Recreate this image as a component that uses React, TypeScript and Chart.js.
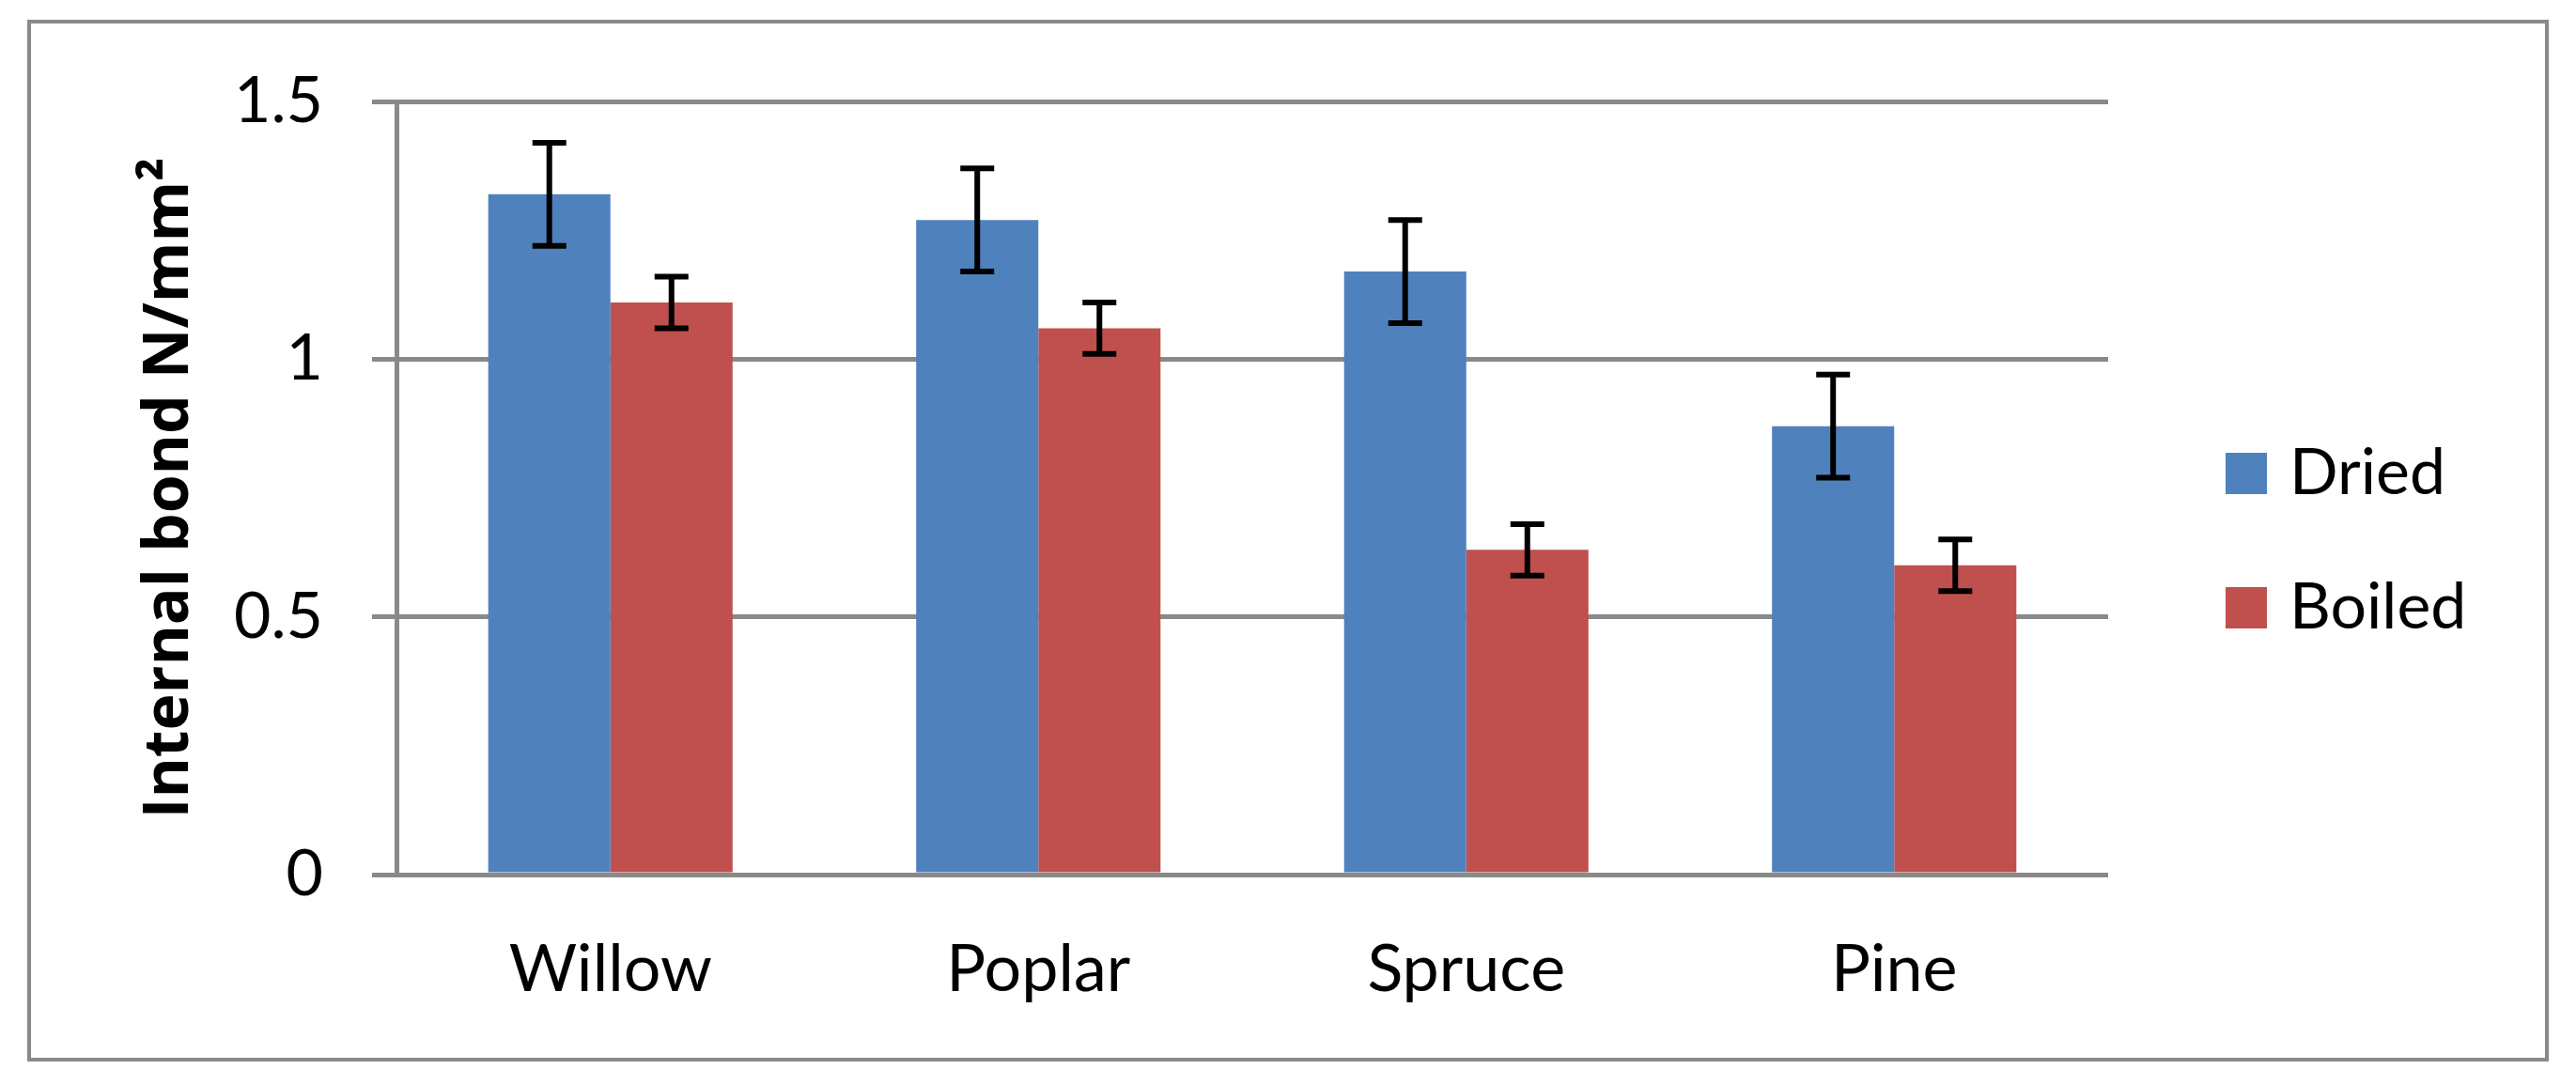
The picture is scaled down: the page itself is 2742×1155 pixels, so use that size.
import React, { useEffect, useRef } from 'react';
import { Chart, registerables } from 'chart.js';

Chart.register(...registerables);

// ---- data ----
const categories = ['Willow', 'Poplar', 'Spruce', 'Pine'];
const seriesNames = ['Dried', 'Boiled'];
const driedValues = [1.32, 1.27, 1.17, 0.87];
const boiledValues = [1.11, 1.06, 0.63, 0.6];
const driedErrors = [0.1, 0.1, 0.1, 0.1];
const boiledErrors = [0.05, 0.05, 0.05, 0.05];
const yTickValues = [0, 0.5, 1, 1.5];
const yTickLabels = ['0', '0.5', '1', '1.5'];
const yAxisTitle = 'Internal bond N/mm\u00B2';

// ---- styles ----
const W = 2742;
const H = 1155;
const FONT = 'Lato';
const TITLE_FONT = 'Open Sans';
const BLUE = '#4F81BD';
const RED = '#C0504D';
const GRID = '#898989';

const framePlugin = {
  id: 'frame',
  beforeDraw(chart: any, _args: any, opts: any) {
    const { ctx } = chart;
    ctx.save();
    ctx.fillStyle = '#ffffff';
    ctx.fillRect(0, 0, chart.width, chart.height);
    ctx.strokeStyle = opts.color;
    ctx.lineWidth = opts.lineWidth;
    ctx.strokeRect(opts.left, opts.top, opts.right - opts.left, opts.bottom - opts.top);
    ctx.restore();
  },
};

const errorBarPlugin = {
  id: 'errorBars',
  afterDatasetsDraw(chart: any, _args: any, opts: any) {
    const { ctx } = chart;
    const yScale = chart.scales.y;
    ctx.save();
    ctx.strokeStyle = opts.color;
    ctx.lineWidth = opts.lineWidth;
    chart.data.datasets.forEach((ds: any, di: number) => {
      const meta = chart.getDatasetMeta(di);
      const errs: number[] = ds.errors || [];
      meta.data.forEach((bar: any, i: number) => {
        const v = ds.data[i];
        const e = errs[i];
        if (e == null) return;
        const x = bar.x;
        const yt = yScale.getPixelForValue(v + e);
        const yb = yScale.getPixelForValue(v - e);
        const hw = opts.capWidth / 2;
        ctx.beginPath();
        ctx.moveTo(x, yt);
        ctx.lineTo(x, yb);
        ctx.moveTo(x - hw, yt);
        ctx.lineTo(x + hw, yt);
        ctx.moveTo(x - hw, yb);
        ctx.lineTo(x + hw, yb);
        ctx.stroke();
      });
    });
    ctx.restore();
  },
};

const sideLegendPlugin = {
  id: 'sideLegend',
  afterDraw(chart: any, _args: any, opts: any) {
    const { ctx } = chart;
    ctx.save();
    chart.data.datasets.forEach((ds: any, i: number) => {
      const cy = opts.firstCenterY + i * opts.spacing;
      ctx.fillStyle = ds.backgroundColor;
      ctx.fillRect(opts.x, cy - opts.box / 2, opts.box, opts.box);
      ctx.fillStyle = '#000000';
      ctx.font = `${opts.fontSize}px ${FONT}`;
      ctx.textAlign = 'left';
      ctx.textBaseline = 'middle';
      ctx.fillText(ds.label, opts.x + opts.box + opts.gap, cy + opts.textDy);
    });
    ctx.restore();
  },
};

export default function App() {
  const canvasRef = useRef<HTMLCanvasElement | null>(null);

  useEffect(() => {
    document.body.style.margin = '0';
    let chart: Chart | null = null;
    let cancelled = false;
    const build = () => {
      if (cancelled || !canvasRef.current) return;
      chart = new Chart(canvasRef.current, {
        type: 'bar',
        data: {
          labels: categories,
          datasets: [
            {
              label: seriesNames[0],
              data: driedValues,
              errors: driedErrors,
              backgroundColor: BLUE,
              borderWidth: 0,
              categoryPercentage: 0.571,
              barPercentage: 1.0,
            } as any,
            {
              label: seriesNames[1],
              data: boiledValues,
              errors: boiledErrors,
              backgroundColor: RED,
              borderWidth: 0,
              categoryPercentage: 0.571,
              barPercentage: 1.0,
            } as any,
          ],
        },
        options: {
          responsive: false,
          animation: false,
          devicePixelRatio: 1,
          layout: { padding: { left: 142, right: 498, top: 108, bottom: 0 } },
          plugins: {
            legend: { display: false },
            tooltip: { enabled: false },
            frame: { left: 31, top: 23, right: 2711, bottom: 1128, color: GRID, lineWidth: 4 },
            errorBars: { color: '#000000', lineWidth: 6, capWidth: 36 },
            sideLegend: {
              x: 2369,
              firstCenterY: 504,
              spacing: 143,
              box: 44,
              gap: 24,
              fontSize: 68,
              textDy: 0,
            },
          } as any,
          scales: {
            x: {
              grid: { display: false, drawTicks: false },
              border: { display: false },
              ticks: {
                color: '#000000',
                font: { family: FONT, size: 70 },
                padding: 59,
              },
              afterFit: (scale: any) => {
                scale.height = 224;
              },
            },
            y: {
              min: 0,
              max: 1.5,
              afterBuildTicks: (scale: any) => {
                scale.ticks = yTickValues.map((v) => ({ value: v }));
              },
              ticks: {
                color: '#000000',
                font: { family: FONT, size: 68 },
                padding: 52,
                callback: (_v: any, i: number) => yTickLabels[i],
              },
              grid: { color: GRID, lineWidth: 5, tickLength: 26, drawTicks: true },
              border: { display: true, color: GRID, width: 5 },
              title: {
                display: true,
                text: yAxisTitle,
                color: '#000000',
                font: { family: TITLE_FONT, size: 66, weight: 'bold' },
                padding: 0,
              },
              afterFit: (scale: any) => {
                scale.width = 422 - 142;
              },
            },
          },
        },
        plugins: [framePlugin, errorBarPlugin, sideLegendPlugin],
      });
    };
    const fontsReady = (document as any).fonts
      ? Promise.all([
          (document as any).fonts.load(`68px ${FONT}`),
          (document as any).fonts.load(`bold 66px ${TITLE_FONT}`),
        ]).catch(() => null)
      : Promise.resolve(null);
    fontsReady.then(build);
    return () => {
      cancelled = true;
      if (chart) chart.destroy();
    };
  }, []);

  return (
    <div style={{ width: W, height: H, position: 'relative' }}>
      <canvas ref={canvasRef} width={W} height={H} style={{ display: 'block', width: W, height: H }} />
    </div>
  );
}
